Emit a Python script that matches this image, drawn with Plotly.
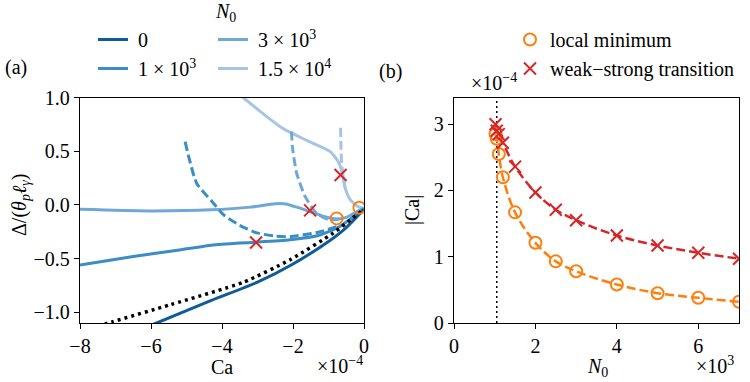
import plotly.graph_objects as go

# ---------------- Panel (a) data (Ca in units of 1e-4) ----------------
ca_n0 = [-6.3, -5.84, -4.3, -3.0, -2.0, -1.0, -0.5, 0.0]
d_n0 = [-1.16, -1.10, -0.89, -0.72, -0.55, -0.34, -0.21, -0.04]

ca_dot = [-7.5, -7.1, -5.46, -3.4, -2.08, -0.86, -0.39, 0.0]
d_dot = [-1.13, -1.09, -0.93, -0.72, -0.51, -0.26, -0.14, -0.04]

ca_1e3 = [-8.0, -6.5, -5.2, -4.3, -3.5, -3.04, -2.08, -1.24, -0.68, -0.3, 0.0]
d_1e3 = [-0.56, -0.48, -0.42, -0.375, -0.355, -0.347, -0.325, -0.28, -0.20, -0.11, -0.04]
ca_1e3_dash = [-5.04, -4.71, -4.3, -3.96, -3.5, -3.02, -2.5, -2.08, -1.24, -0.68]
d_1e3_dash = [0.59, 0.20, 0.04, -0.09, -0.19, -0.26, -0.29, -0.295, -0.25, -0.19]

ca_3e3 = [-8.0, -6.1, -4.3, -3.2, -2.5, -2.2, -1.85, -1.52, -1.05, -0.77, -0.5, -0.3, 0.0]
d_3e3 = [-0.04, -0.055, -0.045, -0.02, 0.012, 0.01, -0.025, -0.063, -0.115, -0.13, -0.115, -0.08, -0.03]
ca_3e3_dash = [-2.04, -2.02, -1.9, -1.66, -1.33, -0.96, -0.7]
d_3e3_dash = [0.685, 0.55, 0.30, 0.08, -0.08, -0.14, -0.13]

ca_15e3 = [-3.6, -3.4, -2.8, -2.27, -1.6, -0.96, -0.72, -0.6, -0.54, -0.39, -0.16, 0.0]
d_15e3 = [1.05, 1.0, 0.84, 0.71, 0.60, 0.50, 0.40, 0.28, 0.17, 0.05, -0.016, -0.03]
ca_15e3_dash = [-0.66, -0.65, -0.63, -0.58, -0.54]
d_15e3_dash = [0.72, 0.55, 0.39, 0.25, 0.17]

ca_trans_a = [-3.04, -1.52, -0.66]
d_trans_a = [-0.35, -0.05, 0.28]
ca_min_a = [-0.77, -0.13]
d_min_a = [-0.125, -0.025]

# ---------------- Panel (b) data (N0 in 1e3, |Ca| in 1e-4) ----------------
n0_min = [1.02, 1.05, 1.1, 1.2, 1.5, 2.0, 2.5, 3.0, 4.0, 5.0, 6.0, 7.0]
ca_min = [2.85, 2.78, 2.55, 2.2, 1.67, 1.21, 0.93, 0.78, 0.58, 0.45, 0.38, 0.32]
n0_tr = [1.02, 1.05, 1.1, 1.2, 1.5, 2.0, 2.5, 3.0, 4.0, 5.0, 6.0, 7.0]
ca_tr = [3.0, 2.9, 2.85, 2.72, 2.36, 1.97, 1.71, 1.55, 1.32, 1.17, 1.06, 0.97]
n0_crit = 1.05

col0 = "#105c97"
col1 = "#3a8dc5"
col3 = "#6fa8d6"
col15 = "#a6c4e4"
orange = "#ff7f0e"
red = "#d62728"
FONT = "Liberation Serif, DejaVu Serif, serif"
FS = 20
NB = "\u00a0"

fig = go.Figure()

def line(x, y, color, dash="solid", width=3, name=None, legend=None, show=False, xa="x", ya="y"):
    fig.add_trace(go.Scatter(x=x, y=y, mode="lines",
                             line=dict(color=color, width=width, dash=dash, shape="spline", smoothing=0.6),
                             name=name, showlegend=show, legend=legend, xaxis=xa, yaxis=ya))

line(ca_15e3, d_15e3, col15, name=NB + "1.5 × 10<sup>4</sup>", legend="legend2", show=True)
line(ca_15e3_dash, d_15e3_dash, col15, dash="9px,4px")
line(ca_3e3, d_3e3, col3, name=NB + "3 × 10<sup>3</sup>", legend="legend2", show=True)
line(ca_3e3_dash, d_3e3_dash, col3, dash="9px,4px")
line(ca_1e3, d_1e3, col1, name=NB + "1 × 10<sup>3</sup>", legend="legend", show=True)
line(ca_1e3_dash, d_1e3_dash, col1, dash="9px,4px")
line(ca_n0, d_n0, col0, name=NB + "0", legend="legend", show=True)
line(ca_dot, d_dot, "black", dash="3px,4px", width=3.5)

fig.add_trace(go.Scatter(x=ca_trans_a, y=d_trans_a, mode="markers", showlegend=False,
                         marker=dict(symbol="x-thin-open", size=12, color=red, line=dict(color=red, width=2)),
                         xaxis="x", yaxis="y"))
fig.add_trace(go.Scatter(x=ca_min_a, y=d_min_a, mode="markers", showlegend=False,
                         marker=dict(symbol="circle-open", size=12, color=orange, line=dict(color=orange, width=2)),
                         xaxis="x", yaxis="y"))

# panel (b)
fig.add_trace(go.Scatter(x=[n0_crit, n0_crit], y=[0, 3.4], mode="lines", showlegend=False,
                         line=dict(color="black", width=1.5, dash="2px,3px"), xaxis="x2", yaxis="y2"))
fig.add_trace(go.Scatter(x=n0_min, y=ca_min, mode="lines", showlegend=False,
                         line=dict(color=orange, width=2.5, dash="9px,4px", shape="spline"),
                         xaxis="x2", yaxis="y2"))
fig.add_trace(go.Scatter(x=n0_tr, y=ca_tr, mode="lines", showlegend=False,
                         line=dict(color=red, width=2.5, dash="9px,4px", shape="spline"),
                         xaxis="x2", yaxis="y2"))
fig.add_trace(go.Scatter(x=n0_min, y=ca_min, mode="markers", name="local minimum", legend="legend3",
                         marker=dict(symbol="circle-open", size=12, color=orange, line=dict(color=orange, width=2)),
                         xaxis="x2", yaxis="y2"))
fig.add_trace(go.Scatter(x=n0_tr, y=ca_tr, mode="markers", name="weak−strong transition", legend="legend3",
                         marker=dict(symbol="x-thin-open", size=12, color=red, line=dict(color=red, width=2)),
                         xaxis="x2", yaxis="y2"))

W, H = 750, 382
def px(x):
    return x / W
def py(y):
    return 1 - y / H

axis_common = dict(showline=True, linecolor="black", linewidth=1.3, mirror=True, ticks="outside",
                   ticklen=5, tickwidth=1.2, tickcolor="black", showgrid=False, zeroline=False,
                   automargin=False, tickfont=dict(family=FONT, size=FS, color="black"))

leg_common = dict(xanchor="left", yanchor="top", bgcolor="rgba(0,0,0,0)", borderwidth=0,
                  font=dict(family=FONT, size=FS, color="black"), itemwidth=30, tracegroupgap=0)

fig.update_layout(
    template="none",
    width=W, height=H, margin=dict(l=0, r=0, t=0, b=0, pad=0, autoexpand=False),
    paper_bgcolor="white", plot_bgcolor="white",
    font=dict(family=FONT, size=FS, color="black"),
    xaxis=dict(domain=[px(80), px(364)], range=[-8, 0], tickvals=[-8, -6, -4, -2, 0], anchor="y", **axis_common),
    yaxis=dict(domain=[py(323), py(97.7)], range=[-1.1, 1.0], tickvals=[-1.0, -0.5, 0.0, 0.5, 1.0],
               tickformat=".1f", anchor="x", **axis_common),
    xaxis2=dict(domain=[px(454), px(739)], range=[0, 7], tickvals=[0, 2, 4, 6], anchor="y2", **axis_common),
    yaxis2=dict(domain=[py(323), py(97.7)], range=[0, 3.4], tickvals=[0, 1, 2, 3], anchor="x2", **axis_common),
    legend=dict(x=px(93), y=py(20), traceorder="reversed", **leg_common),
    legend2=dict(x=px(213), y=py(20), traceorder="reversed", **leg_common),
    legend3=dict(x=px(510), y=py(20), traceorder="normal", **leg_common),
)

ann = [
    dict(x=px(225), y=py(12), text="<i>N</i><sub>0</sub>"),
    dict(x=px(16), y=py(68), text="(a)"),
    dict(x=px(390), y=py(72), text="(b)"),
    dict(x=px(222), y=py(367), text="Ca"),
    dict(x=px(340), y=py(365), text="×10<sup>−4</sup>"),
    dict(x=px(20), y=py(205), text="Δ/(<i>θ<sub>p</sub>ℓ<sub>γ</sub></i>)", textangle=-90),
    dict(x=px(412), y=py(210), text="|Ca|", textangle=-90),
    dict(x=px(494), y=py(82), text="×10<sup>−4</sup>"),
    dict(x=px(597), y=py(367), text="<i>N</i><sub>0</sub>"),
    dict(x=px(715), y=py(365), text="×10<sup>3</sup>"),
]
for a in ann:
    fig.add_annotation(xref="paper", yref="paper", showarrow=False, xanchor="center", yanchor="middle",
                       font=dict(family=FONT, size=FS, color="black"), **a)

fig.write_html("out.html", config={"displayModeBar": False},
               post_script="document.body.style.margin='0';document.body.style.overflow='hidden';")
